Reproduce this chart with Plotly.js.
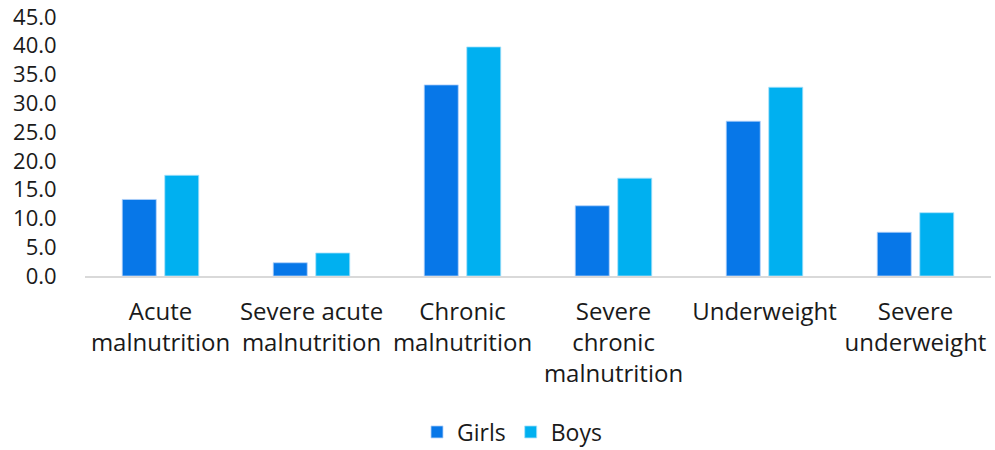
<!DOCTYPE html>
<html>
<head>
<meta charset="utf-8">
<script src="https://cdn.plot.ly/plotly-3.0.1.min.js"></script>
<style>html,body{margin:0;padding:0;background:#fff;}#chart{width:995px;height:450px;}</style>
</head>
<body>
<div id="chart"></div>
<script>
const categories = ["Acute<br>malnutrition", "Severe acute<br>malnutrition", "Chronic<br>malnutrition", "Severe<br>chronic<br>malnutrition", "Underweight", "Severe<br>underweight"];
const girls = [13.3, 2.3, 33.2, 12.2, 26.9, 7.6];
const boys = [17.5, 4.0, 39.8, 17.0, 32.8, 11.0];
const yTicks = [0, 5, 10, 15, 20, 25, 30, 35, 40, 45];

const font = "Open Sans, Noto Sans, sans-serif";
const data = [
  {type: "bar", name: "Girls", x: categories, y: girls, marker: {color: "#0777E8", line: {color: "rgba(180,210,250,0.8)", width: 1}}},
  {type: "bar", name: "Boys", x: categories, y: boys, marker: {color: "#00B0F0", line: {color: "rgba(170,225,250,0.8)", width: 1}}}
];
const layout = {
  width: 995, height: 450,
  margin: {l: 85, r: 4, t: 17, b: 174},
  paper_bgcolor: "#fff", plot_bgcolor: "#fff",
  barmode: "group", bargap: 0.437, bargroupgap: 0.2,
  font: {family: font, size: 24, color: "#1a1a1a"},
  xaxis: {showline: true, linecolor: "#d9d9d9", linewidth: 2, ticks: "outside", ticklen: 13, tickcolor: "rgba(0,0,0,0)", showgrid: false, zeroline: false, tickfont: {size: 24}, fixedrange: true},
  yaxis: {range: [0, 45], tickvals: yTicks, tickformat: ".1f", showgrid: false, zeroline: false, showline: false, ticks: "outside", ticklen: 23, tickcolor: "rgba(0,0,0,0)", tickfont: {size: 22}},
  showlegend: true,
  legend: {orientation: "h", x: (512 - 85) / 906, xanchor: "center", yref: "container", y: 18/450, yanchor: "middle", font: {size: 23}, itemwidth: 30, traceorder: "normal"}
};
Plotly.newPlot("chart", data, layout, {displayModeBar: false, staticPlot: true});
</script>
</body>
</html>
